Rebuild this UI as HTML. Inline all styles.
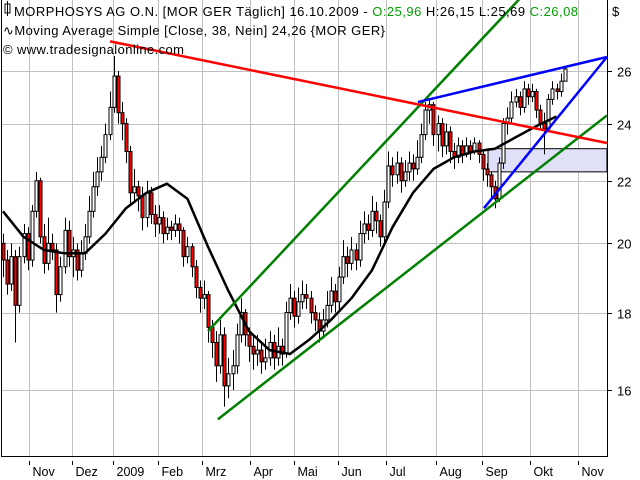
<!DOCTYPE html>
<html><head><meta charset="utf-8"><style>
body{margin:0;background:#fff;}
svg{display:block;font-family:"Liberation Sans","DejaVu Sans",sans-serif;}
</style></head><body>
<svg id="chart" width="640" height="480" viewBox="0 0 640 480" xmlns="http://www.w3.org/2000/svg">
<rect x="0" y="0" width="640" height="480" fill="#fff"/>
<g id="grid"></g>
<g id="drawings"></g>
<g id="candles"></g>
<g id="lines"></g>
<g id="axes"></g>
<g font-size="13" fill="#000">
<rect x="5" y="4" width="5" height="9" fill="none" stroke="#000"/>
<line x1="7.5" y1="1" x2="7.5" y2="16" stroke="#000"/>
<text x="14" y="16" textLength="564" lengthAdjust="spacing">MORPHOSYS AG O.N. [MOR GER  Täglich] 16.10.2009 - <tspan fill="#00a000">O:25,96</tspan> H:26,15 L:25,69 <tspan fill="#00a000">C:26,08</tspan></text>
<text x="3" y="35" textLength="382" lengthAdjust="spacing">∿Moving Average Simple [Close, 38, Nein] 24,26 {MOR GER}</text>
<text x="3" y="54" textLength="181" lengthAdjust="spacing">© www.tradesignalonline.com</text>
<text x="612" y="16">$</text>
</g>
</svg>
<script>
const closes=[19.5,18.8,19.6,18.2,19.6,20.3,19.5,21.0,22.0,20.2,19.4,20.0,19.8,18.5,19.3,20.4,19.6,19.8,19.2,19.7,20.2,21.0,21.8,22.3,22.8,23.6,24.6,25.8,24.4,24.0,23.0,21.6,21.8,21.5,20.8,21.6,20.9,20.6,20.8,20.3,20.5,20.4,20.6,20.4,19.6,19.9,19.3,18.7,18.4,18.5,17.6,17.2,16.6,17.4,16.1,16.4,16.6,17.4,18.0,17.4,17.1,16.9,17.0,16.7,16.8,17.2,16.8,17.1,16.9,18.0,18.4,17.9,18.3,18.5,18.4,18.0,17.8,17.5,17.8,18.2,18.6,18.3,19.0,19.6,19.4,19.8,19.5,20.3,20.6,20.4,21.0,20.7,20.2,21.3,22.5,22.2,22.6,22.0,22.3,22.6,22.4,22.8,23.6,24.5,24.7,23.6,24.0,23.2,23.7,23.0,22.8,23.2,22.9,23.2,23.0,23.3,22.9,22.4,22.2,21.8,21.4,22.6,24.0,24.2,24.8,25.0,24.6,25.3,25.0,25.2,24.5,24.0,23.8,24.9,25.3,25.2,25.6,26.08];
const highs=[20.3,19.8,20.0,19.8,19.9,20.6,20.5,21.2,22.3,22.1,20.6,20.8,20.3,20.0,19.6,20.8,20.7,20.2,20.0,20.1,20.6,21.5,22.3,22.8,23.2,24.0,25.2,26.6,26.0,24.8,24.2,23.2,22.4,22.0,21.8,22.0,21.8,21.2,21.2,21.0,20.8,20.7,20.9,20.8,20.5,20.2,20.0,19.5,18.9,18.9,18.6,17.8,17.5,17.8,17.6,16.8,17.0,17.7,18.4,18.1,17.6,17.4,17.4,17.2,17.3,17.5,17.4,17.6,17.3,18.3,18.8,18.6,18.7,18.9,18.8,18.6,18.2,18.0,18.1,18.6,19.0,18.8,19.3,20.1,19.9,20.2,20.0,20.7,21.0,20.9,21.5,21.3,20.9,21.7,23.0,22.8,23.0,22.8,22.7,23.0,22.9,23.4,24.0,24.8,24.9,24.8,24.3,24.2,24.0,23.9,23.3,23.5,23.4,23.5,23.4,23.5,23.4,23.0,22.6,22.3,22.0,22.8,24.2,24.6,25.2,25.3,25.2,25.6,25.5,25.5,25.3,24.7,24.4,25.1,25.6,25.5,25.9,26.15];
const lows=[19.0,18.5,18.6,17.2,18.0,19.4,19.2,19.3,20.8,20.0,19.1,19.2,19.5,18.0,18.3,19.1,19.3,19.0,18.9,19.0,19.5,20.0,20.8,21.5,22.0,22.6,23.4,24.4,24.0,23.4,22.6,21.2,21.3,21.0,20.4,20.5,20.6,20.2,20.3,20.0,20.1,20.1,20.2,20.0,19.3,19.4,19.0,18.4,18.0,18.1,17.2,16.8,16.2,16.4,15.6,15.8,16.0,16.4,17.2,17.1,16.7,16.5,16.6,16.4,16.5,16.6,16.5,16.6,16.6,16.8,17.8,17.6,17.7,18.1,18.1,17.7,17.5,17.2,17.3,17.6,18.0,18.0,18.1,18.8,19.0,19.2,19.2,19.3,20.0,20.1,20.2,20.3,19.9,20.0,21.1,21.8,21.9,21.6,21.8,22.0,22.0,22.2,22.6,23.4,24.0,23.2,23.0,22.8,22.9,22.6,22.4,22.6,22.6,22.8,22.7,22.9,22.6,22.0,21.8,21.4,21.1,21.3,22.4,23.6,24.0,24.6,24.3,24.4,24.7,24.8,24.2,23.8,22.9,23.7,24.7,24.9,25.0,25.69];
const firstOpen=20.0;
const maValues=[21.0,20.2,19.8,19.7,19.7,20.3,21.1,21.6,21.9,21.4,19.9,18.6,17.5,17.0,16.9,17.3,17.8,18.4,19.2,20.5,21.6,22.4,22.8,23.0,23.1,23.5,23.9,24.26];
const maStep=5;
const priceTicks=[16,18,20,22,24,26];
const priceTickLabels=["16","18","20","22","24","26"];
const monthLabels=["Nov","Dez","2009","Feb","Mrz","Apr","Mai","Jun","Jul","Aug","Sep","Okt","Nov"];
const monthStartIdx=[6.3,16.8,26.8,37.9,48.5,60.2,70.9,81.7,93.4,105.6,116.8,128.5,140.2];
// trend lines: [startIndex,startPrice,endIndex,endPrice]
const greenUpper=[50.0,17.5,125.9,29.0];
const greenLower=[52.4,15.3,147.3,24.3];
const redLine=[26.1,27.2,147.3,23.3];
const blueUpper=[101.2,24.8,147.3,26.56];
const blueLower=[117.3,21.1,147.3,26.56];
const zoneRect=[118.3,23.1,147.3,22.3];

const NS="http://www.w3.org/2000/svg";
const L=1,R=607,T=0,B=456;
function xs(i){return 3+4.1*i;}
function ys(p){return 71+657*(Math.log(26)-Math.log(p));}
function mk(tag,attrs,parent){const e=document.createElementNS(NS,tag);for(const k in attrs)e.setAttribute(k,attrs[k]);parent.appendChild(e);return e;}
const grid=document.getElementById('grid'),axes=document.getElementById('axes'),cg=document.getElementById('candles'),lg=document.getElementById('lines'),dg=document.getElementById('drawings');
priceTicks.forEach((p,k)=>{
  const y=Math.round(ys(p))+0.5;
  const gl=mk('line',{x1:L,x2:R,y1:y,y2:y,stroke:'#c0c0c0'},grid);
  
  
  const tk=mk('line',{x1:R,x2:R+5,y1:y,y2:y,stroke:'#000'},axes);
  
  
  const t=mk('text',{x:R+10,y:y+5,'font-size':13},axes);t.textContent=priceTickLabels[k];
  
  
});
monthStartIdx.forEach((m,k)=>{
  const x=Math.round(xs(m))+0.5;
  const gl=mk('line',{x1:x,x2:x,y1:T,y2:B,stroke:'#c0c0c0'},grid);
  
  
  const tk=mk('line',{x1:x,x2:x,y1:B+5,y2:B+9,stroke:'#000'},axes);
  
  
  const t=mk('text',{x:x+3,y:476,'font-size':12.5},axes);t.textContent=monthLabels[k];
  
  
});
const fr=mk('path',{d:`M${L+0.5} ${T}V${B+0.5}H${R+0.5}V${T}`,fill:'none',stroke:'#000'},axes);


const zr=mk('rect',{x:xs(zoneRect[0]),y:ys(zoneRect[1]),width:xs(zoneRect[2])-xs(zoneRect[0]),height:ys(zoneRect[3])-ys(zoneRect[1]),fill:'#e0e0f8',stroke:'#000'},dg);


closes.forEach((c,i)=>{
  const o=i===0?firstOpen:closes[i-1];
  const x=Math.round(xs(i))+0.5;
  const w=mk('line',{x1:x,x2:x,y1:ys(highs[i]),y2:ys(lows[i]),stroke:'#000'},cg);
  
  
  const top=ys(Math.max(o,c)),bot=ys(Math.min(o,c));
  const b=mk('rect',{x:x-1.5,y:top,width:3,height:Math.max(1,bot-top),fill:c<o?'#ff0000':'#ffffff',stroke:'#000','stroke-width':1},cg);
  
  
});
const pts=maValues.map((v,k)=>xs(Math.min(k*maStep,closes.length-1)).toFixed(1)+','+ys(v).toFixed(1)).join(' ');
const ma=mk('polyline',{points:pts,fill:'none',stroke:'#000','stroke-width':2.5,'stroke-linejoin':'round'},lg);


function tl(a,color,name){
  const e=mk('line',{x1:xs(a[0]),y1:ys(a[1]),x2:xs(a[2]),y2:ys(a[3]),stroke:color,'stroke-width':2.5},lg);
  
  
}
tl(greenUpper,'#008000','green-channel-upper');
tl(greenLower,'#008000','green-channel-lower');
tl(redLine,'#ff0000','red-resistance-line');
tl(blueUpper,'#0000ff','blue-wedge-upper');
tl(blueLower,'#0000ff','blue-wedge-lower');
</script>
</body></html>
